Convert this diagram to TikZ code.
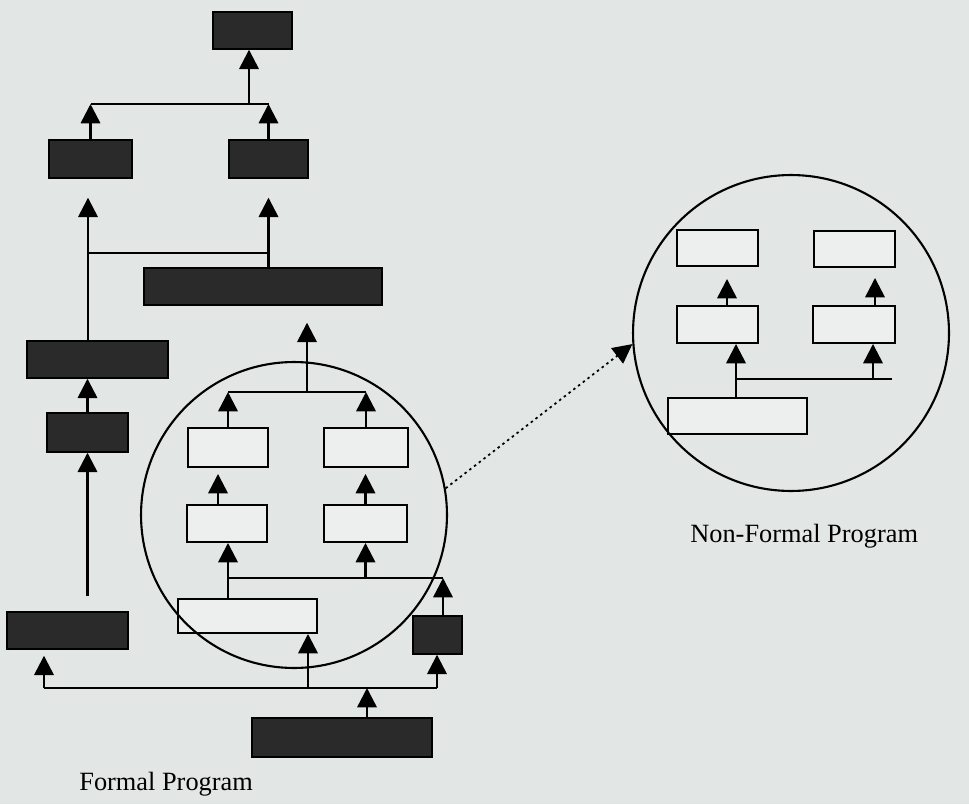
\documentclass[tikz,border=0pt]{standalone}
\usepackage{fontspec}
\setmainfont{Liberation Serif}
\usepackage{tikz}
\usetikzlibrary{arrows.meta}
\definecolor{bgc}{RGB}{226,231,230}
\definecolor{darkfill}{RGB}{42,42,42}
\definecolor{lightfill}{RGB}{237,239,239}
\begin{document}
\begin{tikzpicture}[x=0.02cm, y=-0.02cm,
    dbox/.style={draw=black, fill=darkfill, line width=0.8pt, inner sep=0pt},
    lbox/.style={draw=black, fill=lightfill, line width=1.1pt, inner sep=0pt},
    ring/.style={draw=black, circle, line width=1.2pt, inner sep=0pt},
    ln/.style={line width=1.4pt},
    arr/.style={ln, -{Triangle[width=11pt,length=11pt]}},
    lbl/.style={font=\fontsize{15}{18}\selectfont, inner sep=0pt}]
    \fill[bgc] (0,0) rectangle (969,804);
    \useasboundingbox (0,0) rectangle (969,804);
    % formal program
    \node[dbox, minimum width=1.58cm, minimum height=0.74cm] (top) at (252.5,30.5) {};
    \node[dbox, minimum width=1.66cm, minimum height=0.76cm] (fa) at (90.5,159) {};
    \node[dbox, minimum width=1.58cm, minimum height=0.76cm] (fb) at (268.5,159) {};
    \node[dbox, minimum width=4.76cm, minimum height=0.74cm] (fc) at (263,286.5) {};
    \node[dbox, minimum width=2.82cm, minimum height=0.74cm] (fd) at (97.5,359.5) {};
    \node[dbox, minimum width=1.62cm, minimum height=0.78cm] (fe) at (87.5,432.5) {};
    \node[dbox, minimum width=2.42cm, minimum height=0.74cm] (ff) at (67.5,630.5) {};
    \node[dbox, minimum width=0.98cm, minimum height=0.76cm] (fg) at (437.5,635) {};
    \node[dbox, minimum width=3.6cm, minimum height=0.78cm] (fh) at (342,737.5) {};
    % boxes in the circles
    \node[lbox, minimum width=1.6cm, minimum height=0.78cm] (u1) at (228,447.5) {};
    \node[lbox, minimum width=1.68cm, minimum height=0.78cm] (u2) at (366,447.5) {};
    \node[lbox, minimum width=1.6cm, minimum height=0.74cm] (m1) at (227,523.5) {};
    \node[lbox, minimum width=1.66cm, minimum height=0.74cm] (m2) at (365.5,523.5) {};
    \node[lbox, minimum width=2.78cm, minimum height=0.68cm] (bb) at (247.5,616) {};
    \node[lbox, minimum width=1.62cm, minimum height=0.72cm] (n1) at (717.5,248) {};
    \node[lbox, minimum width=1.62cm, minimum height=0.72cm] (n2) at (854.5,249) {};
    \node[lbox, minimum width=1.62cm, minimum height=0.74cm] (n3) at (717.5,324.5) {};
    \node[lbox, minimum width=1.64cm, minimum height=0.74cm] (n4) at (854,324.5) {};
    \node[lbox, minimum width=2.78cm, minimum height=0.72cm] (n5) at (737.5,416) {};
    \node[ring, minimum size=6.12cm] (cl) at (294,515) {};
    \node[ring, minimum size=6.32cm] (cr) at (791,333) {};
    \coordinate (j1) at (249,104);
    \coordinate (j2) at (88,253);
    \coordinate (j3) at (307,392);
    \coordinate (j4) at (367,688);
    \coordinate (b1) at (44,688);
    \coordinate (b2) at (437,688);
    \coordinate (b3) at (308,688);
    \coordinate (j5) at (443,578);
    \coordinate (j6) at (228,578);
    \coordinate (j7) at (736,379);
    \coordinate (j8) at (892,379);
    \coordinate (j9) at (873,379);
    \draw[arr] (fa.north) -- (fa.north |- j1);
    \draw[arr] (fb.north) -- (fb.north |- j1);
    \draw[ln] (fa.north |- j1) -- (fb.north |- j1);
    \draw[arr] (j1) -- (j1 |- top.south);
    \draw[arr, shorten >=0.38cm] (j2 |- fd.north) -- (j2 |- fa.south);
    \draw[arr, shorten >=0.38cm] (fc.north -| fb) -- (fb.south);
    \draw[ln] (j2) -- (j2 -| fb);
    \draw[arr] (fe.north) -- (fe.north |- fd.south);
    \draw[arr, shorten <=0.3cm] (ff.north -| fe) -- (fe.south);
    \draw[ln] (b1) -- (b2);
    \draw[arr] (j4 |- fh.north) -- (j4);
    \draw[arr, shorten >=0.12cm] (b1) -- (b1 |- ff.south);
    \draw[arr] (b2) -- (b2 |- fg.south);
    \draw[arr] (b3) -- (b3 |- bb.south);
    \draw[arr] (j5 |- fg.north) -- (j5);
    \draw[ln] (j6) -- (j5);
    \draw[ln] (j6 |- bb.north) -- (j6);
    \draw[arr] (j6) -- (j6 |- m1.south);
    \draw[arr] (j6 -| m2) -- (m2.south);
    \draw[arr, shorten >=0.12cm] ([xshift=-0.18cm]m1.north) -- ([xshift=-0.18cm]m1.north |- u1.south);
    \draw[arr, shorten >=0.12cm] (m2.north) -- (m2.north |- u2.south);
    \draw[arr] (u1.north) -- (u1.north |- j3);
    \draw[arr] (u2.north) -- (u2.north |- j3);
    \draw[ln] (u1.north |- j3) -- (u2.north |- j3);
    \draw[arr, shorten >=0.34cm] (j3) -- (j3 |- fc.south);
    % non-formal program
    \draw[arr, shorten >=0.24cm] ([xshift=0.19cm]n3.north) -- ([xshift=0.19cm]n3.north |- n1.south);
    \draw[arr, shorten >=0.2cm] ([xshift=0.42cm]n4.north) -- ([xshift=0.42cm]n4.north |- n2.south);
    \draw[ln] (j7 |- n5.north) -- (j7);
    \draw[arr] (j7) -- (j7 |- n3.south);
    \draw[ln] (j7) -- (j8);
    \draw[arr] (j9) -- (j9 |- n4.south);
    \draw[arr, dotted, line width=1pt] (cl.10) -- (cr.184);
    \node[lbl, anchor=base west] (nf) at (690,542) {Non-Formal Program};
    \node[lbl, anchor=base west] (fp) at (79,790) {Formal Program};
\end{tikzpicture}
\end{document}
